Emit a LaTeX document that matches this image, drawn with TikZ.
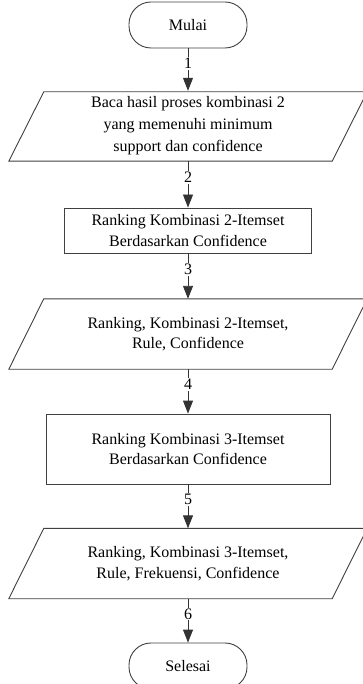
\documentclass[tikz,border=0pt]{standalone}
\usepackage{fontspec}
\setmainfont{Liberation Serif}
\usetikzlibrary{arrows.meta}
\begin{document}
\begin{tikzpicture}[x=1pt,y=-1pt,
  shapeline/.style={draw=black!75, line width=0.9pt},
  term/.style={shapeline, rounded corners=22pt, minimum width=118pt, minimum height=46pt, inner sep=0pt},
  procbox/.style={shapeline, inner sep=0pt, align=center},
  iobox/.style={minimum width=323pt, minimum height=70pt, inner sep=0pt, align=center},
  conn/.style={draw=black!80, line width=0.9pt, -{Triangle[length=13pt,width=10pt]}},
  lbl/.style={fill=white, inner sep=1pt, pos=0.35},
  every node/.style={font=\fontsize{16}{20.5}\selectfont}
]
\useasboundingbox (0,0) rectangle (363,684);
\clip (0,0) rectangle (363,684);

\node[term] (start) at (188,25) {Mulai};

\node[iobox, font=\fontsize{16}{22}\selectfont] (in1) at (188,126) {Baca hasil proses kombinasi 2\\yang memenuhi minimum\\support dan confidence};
\draw[shapeline] ([xshift=17.5pt,yshift=-1pt]in1.north west) -- ([xshift=17.5pt,yshift=-1pt]in1.north east) -- ([xshift=-17.5pt]in1.south east) -- ([xshift=-17.5pt]in1.south west) -- cycle;

\node[procbox, minimum width=247pt, minimum height=45pt] (r1) at (188,230.5) {Ranking Kombinasi 2-Itemset\\Berdasarkan Confidence};

\node[iobox] (in2) at (188,334) {Ranking, Kombinasi 2-Itemset,\\Rule, Confidence};
\draw[shapeline] ([xshift=17.5pt]in2.north west) -- ([xshift=17.5pt]in2.north east) -- ([xshift=-17.5pt]in2.south east) -- ([xshift=-17.5pt]in2.south west) -- cycle;

\node[procbox, minimum width=284pt, minimum height=70pt] (r2) at (188,449) {Ranking Kombinasi 3-Itemset\\Berdasarkan Confidence};

\node[iobox] (in3) at (188,563.5) {Ranking, Kombinasi 3-Itemset,\\Rule, Frekuensi, Confidence};
\draw[shapeline] ([xshift=17.5pt]in3.north west) -- ([xshift=17.5pt]in3.north east) -- ([xshift=-17.5pt]in3.south east) -- ([xshift=-17.5pt]in3.south west) -- cycle;

\node[term] (end) at (188,666) {Selesai};

\draw[conn] (start.south) -- node[lbl]{1} (in1.north);
\draw[conn] (in1.south) -- node[lbl]{2} (r1.north);
\draw[conn] (r1.south) -- node[lbl]{3} (in2.north);
\draw[conn] (in2.south) -- node[lbl]{4} (r2.north);
\draw[conn] (r2.south) -- node[lbl]{5} (in3.north);
\draw[conn] (in3.south) -- node[lbl]{6} (end.north);
\end{tikzpicture}
\end{document}
